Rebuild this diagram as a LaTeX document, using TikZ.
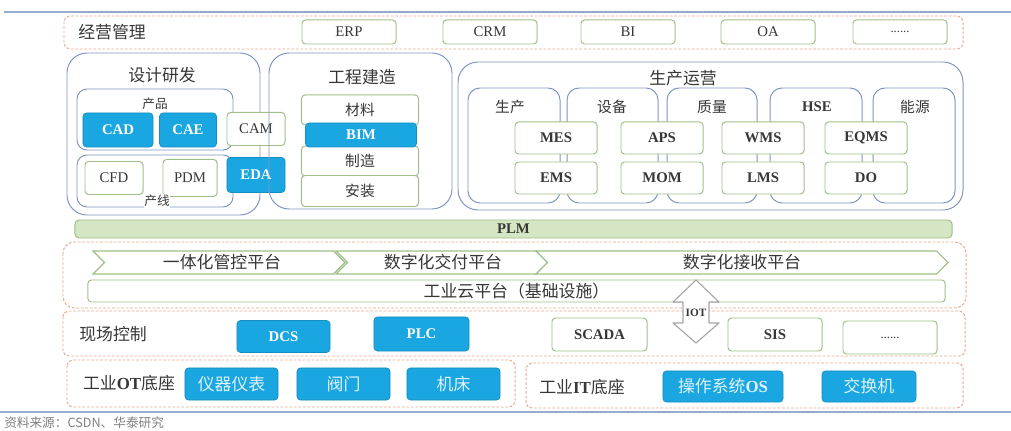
\documentclass[tikz,border=0pt]{standalone}
\usepackage{fontspec}
\setmainfont{Liberation Serif}
\newfontfamily\cjk{Noto Sans CJK SC}
\usetikzlibrary{shapes.symbols}
\definecolor{boxblue}{RGB}{26,167,225}
\definecolor{boxgreen}{RGB}{160,190,135}
\definecolor{frameblue}{RGB}{128,148,192}
\definecolor{dashorange}{RGB}{231,169,143}
\definecolor{plmfill}{RGB}{212,230,195}
\definecolor{rulecol}{RGB}{150,172,205}
\definecolor{txt}{RGB}{55,55,55}
\tikzset{
  gbox/.style={draw=boxgreen, fill=white, rounded corners=2.5pt, line width=0.7pt, inner sep=0pt, text=txt},
  bbox/.style={draw=boxblue!85!black, fill=boxblue, rounded corners=2.5pt, line width=0.5pt, inner sep=0pt, text=white, font=\bfseries},
  dbox/.style={draw=dashorange, line width=0.7pt, dash pattern=on 2pt off 1.2pt, rounded corners=4pt},
  frame/.style={draw=frameblue, line width=0.7pt, rounded corners=0.5cm},
  col/.style={draw=frameblue, line width=0.7pt, rounded corners=0.3cm},
  chev/.style={signal, signal from=west, signal to=east, draw=boxgreen, fill=white, line width=0.8pt, inner sep=0pt, minimum height=0.575cm},
  cnlab/.style={font=\cjk\large, text=txt},
  sublab/.style={font=\cjk\fontsize{10.5}{12}\selectfont, text=txt},
  lat/.style={font=\fontsize{10.5}{12}\selectfont},
  latb/.style={font=\bfseries\fontsize{10.5}{12}\selectfont},
}
\begin{document}
\begin{tikzpicture}[x=0.025cm, y=-0.025cm]
\useasboundingbox (0,0) rectangle (1011,431);
\draw[rulecol, line width=0.8pt] (4,12) -- (1011,12);
\draw[rulecol, line width=0.8pt] (0,412) -- (1011,412);

\draw[dbox] (64,16) rectangle (963,49);
\node[cnlab] (jygl) at (112,32) {经营管理};
\node[gbox, lat, minimum width=2.35cm, minimum height=0.6cm] (erp) at (349,32) {ERP};
\node[gbox, lat, minimum width=2.35cm, minimum height=0.6cm] (crm) at (490,32) {CRM};
\node[gbox, lat, minimum width=2.35cm, minimum height=0.6cm] (bi) at (628,32) {BI};
\node[gbox, lat, minimum width=2.35cm, minimum height=0.6cm] (oa) at (768,32) {OA};
\node[gbox, lat, minimum width=2.35cm, minimum height=0.6cm] (more1) at (900,32) {\small ......};

\draw[frame] (67,53) rectangle (260,215);
\node[cnlab] (sjyf) at (162,75) {设计研发};
\draw[frameblue, line width=0.7pt, rounded corners=0.25cm] (77,89) rectangle (233,150);
\node[font=\cjk\small, text=txt] (cp) at (155,104) {产品};
\node[bbox, latb, minimum width=1.75cm, minimum height=0.85cm] (cad) at (118,130) {CAD};
\node[bbox, latb, minimum width=1.425cm, minimum height=0.85cm] (cae) at (188,130) {CAE};
\draw[frameblue, line width=0.7pt, rounded corners=0.25cm] (77,155) rectangle (233,207);
\node[gbox, lat, minimum width=1.45cm, minimum height=0.825cm] (cfd) at (114,178) {CFD};
\node[gbox, lat, minimum width=1.35cm, minimum height=0.925cm] (pdm) at (190,178) {PDM};
\node[font=\cjk\small, text=txt, fill=white, inner sep=0.5pt] (cx) at (157,201) {产线};
\node[gbox, lat, minimum width=1.45cm, minimum height=0.825cm] (cam) at (256,129) {CAM};
\node[bbox, latb, minimum width=1.45cm, minimum height=0.875cm] (eda) at (256,175) {EDA};

\draw[frame] (269,53) rectangle (452,209);
\node[cnlab] (gcjz) at (362,77) {工程建造};
\node[gbox, sublab, minimum width=2.925cm, minimum height=0.75cm] (cl) at (360,110) {材料};
\node[gbox, sublab, minimum width=2.925cm, minimum height=0.75cm] (zz) at (360,161) {制造};
\node[gbox, sublab, minimum width=2.925cm, minimum height=0.775cm] (az) at (360,191) {安装};
\node[bbox, latb, minimum width=2.775cm, minimum height=0.6cm] (bim) at (361,135) {BIM};

\draw[frame] (458,62) rectangle (963,210);
\node[cnlab] (scyy) at (683,78) {生产运营};
\draw[col] (468,88) rectangle (560,203);
\draw[col] (567,88) rectangle (658,203);
\draw[col] (667,88) rectangle (757,203);
\draw[col] (770,88) rectangle (862,203);
\draw[col] (873,88) rectangle (955,203);
\node[sublab] (sc) at (510,107) {生产};
\node[sublab] (sb) at (612,107) {设备};
\node[sublab] (zl) at (712,107) {质量};
\node[latb, text=txt] (hse) at (817,107) {HSE};
\node[sublab] (ny) at (915,107) {能源};
\node[gbox, latb, minimum width=2.05cm, minimum height=0.8cm] (mes) at (556,138) {MES};
\node[gbox, latb, minimum width=2.05cm, minimum height=0.8cm] (aps) at (662,138) {APS};
\node[gbox, latb, minimum width=2.05cm, minimum height=0.8cm] (wms) at (763,138) {WMS};
\node[gbox, latb, minimum width=2.05cm, minimum height=0.8cm] (eqms) at (866,138) {EQMS};
\node[gbox, latb, minimum width=2.05cm, minimum height=0.8cm] (ems) at (556,178) {EMS};
\node[gbox, latb, minimum width=2.05cm, minimum height=0.8cm] (mom) at (662,178) {MOM};
\node[gbox, latb, minimum width=2.05cm, minimum height=0.8cm] (lms) at (763,178) {LMS};
\node[gbox, latb, minimum width=2.05cm, minimum height=0.8cm] (do) at (866,178) {DO};

\node[gbox, fill=plmfill, rounded corners=3pt, latb, minimum width=21.925cm, minimum height=0.45cm] (plm) at (513.5,229) {PLM};

\draw[dbox, rounded corners=8pt] (63,242) rectangle (966,308);
\node[chev, minimum width=6.3cm] (p1) at (219,262.5) {};
\node[chev, minimum width=5.3cm] (p2) at (442,262.5) {};
\node[chev, minimum width=10.3cm] (p3) at (742,262.5) {};
\node[cnlab] (p1t) at (222,262.5) {一体化管控平台};
\node[cnlab] (p2t) at (443,262.5) {数字化交付平台};
\node[cnlab] (p3t) at (742,262.5) {数字化接收平台};
\node[gbox, cnlab, minimum width=21.425cm, minimum height=0.55cm] (yun) at (516.5,291) {工业云平台（基础设施）};

\draw[dbox] (63,311) rectangle (965,356);
\node[cnlab] (xckz) at (113,334) {现场控制};
\node[bbox, latb, minimum width=2.325cm, minimum height=0.8cm] (dcs) at (283.5,336.5) {DCS};
\node[bbox, latb, minimum width=2.375cm, minimum height=0.85cm] (plc) at (421.5,334) {PLC};
\node[gbox, latb, minimum width=2.375cm, minimum height=0.825cm] (scada) at (599.5,334.5) {SCADA};
\node[gbox, latb, minimum width=2.35cm, minimum height=0.825cm] (sis) at (775,334.5) {SIS};
\node[gbox, lat, minimum width=2.35cm, minimum height=0.825cm] (more2) at (890,337.5) {\small ......};

\draw[gray!70, fill=white, line width=0.8pt, line join=round] (696,280) -- (719,302) -- (709,302) -- (709,323) -- (719,323) -- (696,343) -- (673,323) -- (683,323) -- (683,302) -- (673,302) -- cycle;
\node[font=\bfseries\footnotesize, text=txt, inner sep=0pt] (iot) at (696,313) {IOT};

\draw[dbox] (67,360) rectangle (515,407);
\node[cnlab] (ot) at (129,383) {工业\textbf{\rmfamily OT}底座};
\node[bbox, font=\cjk\large, text=white!85!boxblue, minimum width=2.325cm, minimum height=0.8cm] (ybyb) at (231.5,384) {仪器仪表};
\node[bbox, font=\cjk\large, text=white!85!boxblue, minimum width=2.325cm, minimum height=0.8cm] (fm) at (343.5,384) {阀门};
\node[bbox, font=\cjk\large, text=white!85!boxblue, minimum width=2.325cm, minimum height=0.8cm] (jc) at (453.5,384) {机床};

\draw[dbox] (526,363) rectangle (963,408);
\node[cnlab] (it) at (582,387) {工业\textbf{\rmfamily IT}底座};
\node[bbox, font=\cjk\large, text=white!85!boxblue, minimum width=3cm, minimum height=0.775cm] (os) at (723,386.5) {操作系统\textbf{\rmfamily OS}};
\node[bbox, font=\cjk\large, text=white!85!boxblue, minimum width=2.35cm, minimum height=0.775cm] (jhj) at (869,386.5) {交换机};

\node[anchor=west, font=\cjk\small, text=gray, inner sep=0pt] (src) at (4,423) {资料来源：CSDN、华泰研究};
\end{tikzpicture}
\end{document}
